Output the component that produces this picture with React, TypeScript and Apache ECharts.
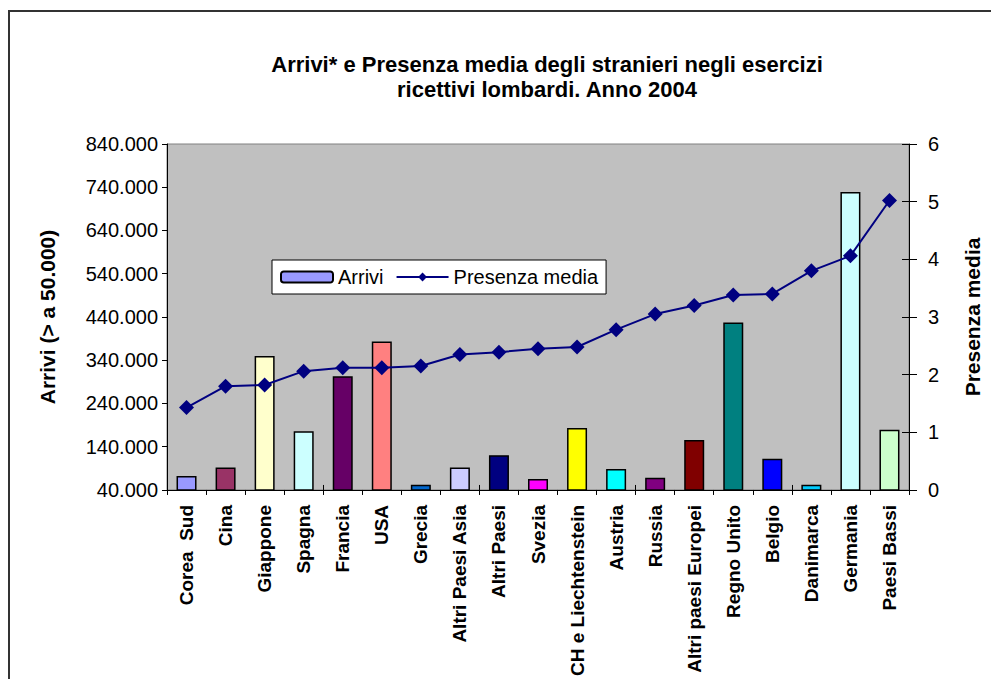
import React, { useEffect, useRef } from "react";
import * as echarts from "echarts";

const titleText = "Arrivi* e Presenza media degli stranieri negli esercizi\nricettivi lombardi. Anno 2004";
const categories = [
  "Corea  Sud", "Cina", "Giappone", "Spagna", "Francia", "USA", "Grecia",
  "Altri Paesi Asia", "Altri Paesi", "Svezia", "CH e Liechtenstein", "Austria",
  "Russia", "Altri paesi Europei", "Regno Unito", "Belgio", "Danimarca",
  "Germania", "Paesi Bassi",
];
const arrivi = [
  72000, 92000, 350000, 175600, 302800, 383300, 52000, 92000, 120500, 65300,
  183300, 88300, 68000, 155700, 427000, 112000, 52000, 728900, 179500,
];
const presenzaMedia = [
  1.43, 1.8, 1.82, 2.06, 2.12, 2.12, 2.15, 2.35, 2.39, 2.45, 2.48, 2.78, 3.05,
  3.2, 3.38, 3.4, 3.8, 4.06, 5.02,
];
const barColors = [
  "#9999FF", "#993366", "#FFFFCC", "#CCFFFF", "#660066", "#FF8080", "#0066CC",
  "#CCCCFF", "#000080", "#FF00FF", "#FFFF00", "#00FFFF", "#800080", "#800000",
  "#008080", "#0000FF", "#00CCFF", "#CCFFFF", "#CCFFCC",
];
const arriviTicks = [40000, 140000, 240000, 340000, 440000, 540000, 640000, 740000, 840000];
const presenzaTicks = [0, 1, 2, 3, 4, 5, 6];

const FONT = "'Liberation Sans', Arial, sans-serif";
const fmt = (n: number) => String(Math.round(n)).replace(/\B(?=(\d{3})+(?!\d))/g, ".");

export default function App() {
  const ref = useRef<HTMLDivElement>(null);
  useEffect(() => {
    if (!ref.current) return;
    const chart = echarts.init(ref.current, undefined, { renderer: "svg" });
    chart.setOption({
      animation: false,
      backgroundColor: "#ffffff",
      textStyle: { fontFamily: FONT },
      title: {
        text: titleText,
        left: 542,
        top: 47,
        textAlign: "center",
        textStyle: { fontFamily: FONT, fontSize: 22, fontWeight: "bold", color: "#000", lineHeight: 25 },
      },
      graphic: [
        {
          type: "rect",
          silent: true,
          shape: { x: 9, y: 11, width: 1100, height: 760 },
          style: { fill: "none", stroke: "#333", lineWidth: 2 },
        },
      ],
      legend: {
        left: 272,
        top: 260,
        orient: "horizontal",
        backgroundColor: "#ffffff",
        borderColor: "#000000",
        borderWidth: 1,
        borderRadius: 0,
        padding: [7, 8, 7, 8],
        itemGap: 12,
        itemWidth: 52,
        itemHeight: 11,
        textStyle: { fontFamily: FONT, fontSize: 20, color: "#000" },
        data: ["Arrivi", "Presenza media"],
      },
      grid: {
        left: 167,
        right: 69,
        top: 144,
        bottom: 187,
        show: true,
        backgroundColor: "#C0C0C0",
        borderColor: "#808080",
        borderWidth: 1,
        containLabel: false,
      },
      xAxis: [
        {
          type: "category",
          data: categories,
          position: "bottom",
          axisLine: { lineStyle: { color: "#000", width: 1 } },
          axisTick: { show: true, inside: false, length: 5, lineStyle: { color: "#000" } },
          axisLabel: {
            interval: 0,
            rotate: 90,
            margin: 15,
            fontFamily: FONT,
            fontSize: 19,
            fontWeight: "bold",
            color: "#000",
          },
          splitLine: { show: false },
        },
        {
          type: "category",
          data: categories,
          position: "bottom",
          axisLine: { show: false },
          axisTick: { show: true, inside: true, length: 5, lineStyle: { color: "#000" } },
          axisLabel: { show: false },
          splitLine: { show: false },
        },
      ],
      yAxis: [
        {
          type: "value",
          position: "left",
          min: arriviTicks[0],
          max: arriviTicks[arriviTicks.length - 1],
          name: "Arrivi (> a 50.000)",
          nameLocation: "middle",
          nameRotate: 90,
          nameGap: 109,
          nameTextStyle: { fontFamily: FONT, fontSize: 21, fontWeight: "bold", color: "#000" },
          axisLine: { show: true, lineStyle: { color: "#000", width: 1 } },
          axisTick: { show: true, length: 5, customValues: arriviTicks, lineStyle: { color: "#000" } },
          axisLabel: {
            customValues: arriviTicks,
            formatter: (v: number) => fmt(v),
            margin: 9,
            fontFamily: FONT,
            fontSize: 20,
            color: "#000",
          },
          splitLine: { show: false },
        },
        {
          type: "value",
          position: "right",
          min: 0,
          max: 6,
          interval: 1,
          name: "Presenza media",
          nameLocation: "middle",
          nameRotate: 90,
          nameGap: 53,
          nameTextStyle: { fontFamily: FONT, fontSize: 21, fontWeight: "bold", color: "#000" },
          axisLine: { show: true, lineStyle: { color: "#000", width: 1 } },
          axisTick: { show: true, length: 8, lineStyle: { color: "#000" } },
          axisLabel: {
            customValues: presenzaTicks,
            margin: 19,
            fontFamily: FONT,
            fontSize: 20,
            color: "#000",
          },
          splitLine: { show: false },
        },
        {
          type: "value",
          position: "right",
          min: 0,
          max: 6,
          interval: 1,
          axisLine: { show: false },
          axisTick: { show: true, inside: true, length: 7, lineStyle: { color: "#000" } },
          axisLabel: { show: false },
          splitLine: { show: false },
        },
      ],
      series: [
        {
          name: "Arrivi",
          type: "bar",
          xAxisIndex: 0,
          yAxisIndex: 0,
          barWidth: 20,
          itemStyle: { color: barColors[0], borderColor: "#000", borderWidth: 1.5 },
          data: arrivi.map((v, i) => ({ value: v, itemStyle: { color: barColors[i] } })),
          z: 2,
        },
        {
          name: "Presenza media",
          type: "line",
          xAxisIndex: 0,
          yAxisIndex: 1,
          data: presenzaMedia,
          symbol: "diamond",
          symbolSize: 15,
          lineStyle: { color: "#000080", width: 2 },
          itemStyle: { color: "#000080" },
          z: 3,
        },
      ],
    });
    return () => chart.dispose();
  }, []);
  return (
    <div
      ref={ref}
      style={{ position: "fixed", left: 0, top: 0, width: 991, height: 679, background: "#fff" }}
    />
  );
}
